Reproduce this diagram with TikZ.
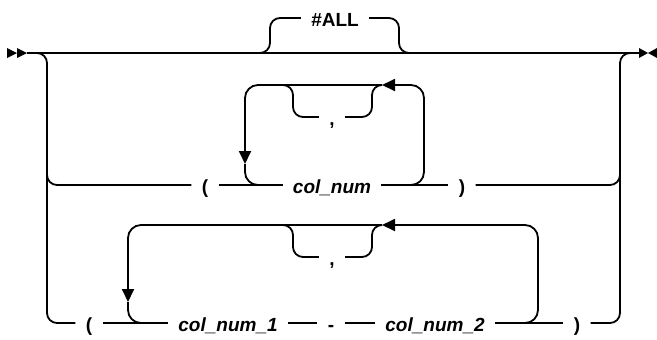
\documentclass[tikz,border=0pt]{standalone}
\usepackage{fontspec}
\setmainfont{Liberation Sans}
\usetikzlibrary{arrows.meta}
\tikzset{
  px/.style={x=0.5pt, y=-0.5pt},
  s rail/.style={line width=0.9pt, rounded corners=5pt},
  s loop/.style={s rail, rounded corners=6.5pt},
  s key/.style={inner xsep=5pt, inner ysep=0pt, text height=8pt, text depth=0pt, font=\fontsize{9.5}{11}\selectfont\bfseries},
  s var/.style={s key, font=\fontsize{9.5}{11}\selectfont\bfseries\itshape},
  s tip/.style={-{Triangle[length=6.5pt, width=6pt]}},
  s mark/.style={fill=black},
}
\begin{document}
\begin{tikzpicture}[px]
\useasboundingbox (0,0) rectangle (657,339);
\coordinate (in) at (27,53); \coordinate (out) at (639,53);
\coordinate (alla) at (260,53); \coordinate (allb) at (409,53);
\coordinate (lt) at (37,53); \coordinate (rt) at (630,53);
\coordinate (l2) at (47,150); \coordinate (r2) at (620,150);
\coordinate (p2a) at (402,185); \coordinate (p2b) at (382,85); \coordinate (p2c) at (245,164); \coordinate (p2d) at (264,185);
\coordinate (c2) at (281,85);
\coordinate (p3a) at (515,323); \coordinate (p3b) at (382,225); \coordinate (p3c) at (128,302); \coordinate (p3d) at (147,323);
\coordinate (c3) at (281,225);
\node[s key] (all) at (335,18) {\#ALL};
\node[s key] (lp2) at (205,185) {(};
\node[s var] (cn) at (332,185) {col\_num};
\node[s key] (rp2) at (462,185) {)};
\node[s key] (cm2) at (332,117) {,};
\node[s key] (lp3) at (89,323) {(};
\node[s var] (cn1) at (228,323) {col\_num\_1};
\node[s key] (dash) at (331,323) {-};
\node[s var] (cn2) at (435,323) {col\_num\_2};
\node[s key] (rp3) at (577,323) {)};
\node[s key] (cm3) at (332,257) {,};
\foreach \x in {7,17} \fill[s mark] (\x,48) -- ++(10,5) -- ++(-10,5) -- cycle;
\fill[s mark] (639,48) -- ++(9,5) -- ++(-9,5) -- cycle;
\fill[s mark] (657,48) -- ++(-9,5) -- ++(9,5) -- cycle;
\draw[s rail] (in) -- (out);
\draw[s rail] (alla) -| (270,18) -- (all.west);
\draw[s rail] (all.east) -| (399,53) -- (allb);
\draw[s rail] (lt) -| (47,323) -- (lp3.west);
\draw[s rail] (l2) |- (lp2.west);
\draw[s rail] (rp3.east) -| (620,53) -- (rt);
\draw[s rail] (rp2.east) -| (r2);
\draw[s rail] (lp2.east) -- (cn.west); \draw[s rail] (cn.east) -- (rp2.west);
\draw[s loop, s tip] (p2a) -| (424,85) -- (p2b);
\draw[s loop, s tip] (p2b) -| (p2c);
\draw[s loop] (p2c) |- (p2d);
\draw[s rail] (c2) -| (293,117) -- (cm2.west);
\draw[s rail] (cm2.east) -| (372,85) -- (p2b);
\draw[s rail] (lp3.east) -- (cn1.west); \draw[s rail] (cn1.east) -- (dash.west);
\draw[s rail] (dash.east) -- (cn2.west); \draw[s rail] (cn2.east) -- (rp3.west);
\draw[s loop, s tip] (p3a) -| (538,225) -- (p3b);
\draw[s loop, s tip] (p3b) -| (p3c);
\draw[s loop] (p3c) |- (p3d);
\draw[s rail] (c3) -| (293,257) -- (cm3.west);
\draw[s rail] (cm3.east) -| (372,225) -- (p3b);
\end{tikzpicture}
\end{document}
